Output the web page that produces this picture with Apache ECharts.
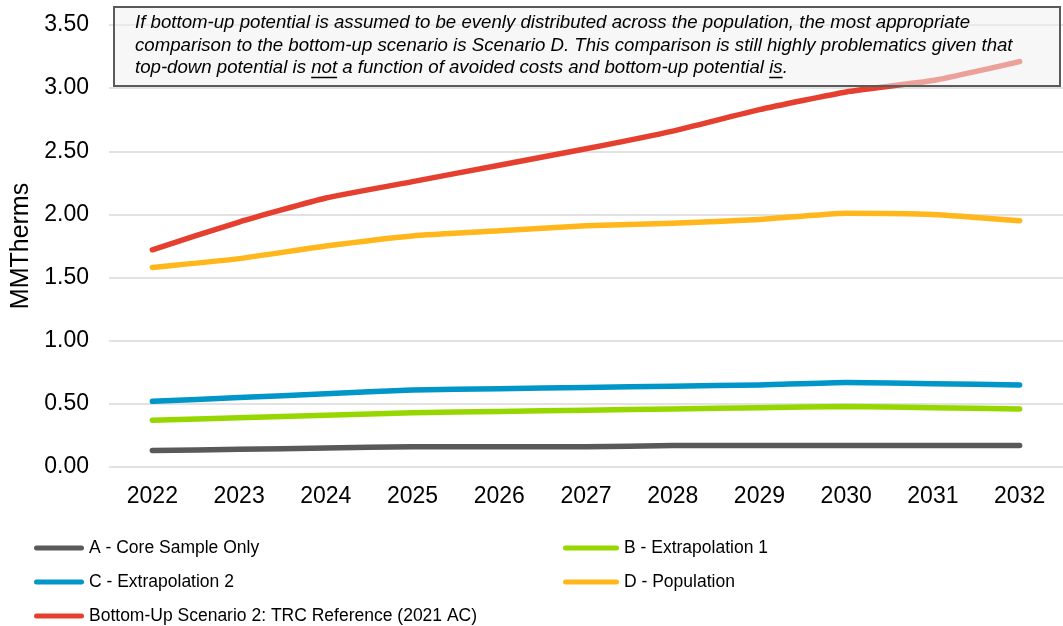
<!DOCTYPE html>
<html>
<head>
<meta charset="utf-8">
<script src="https://cdn.jsdelivr.net/npm/echarts@6/dist/echarts.min.js"></script>
<style>
  html, body { margin: 0; padding: 0; background: #fff; }
  #chart { width: 1063px; height: 626px; }
</style>
</head>
<body>
<div id="chart"></div>
<script>
// Annual savings potential by scenario (MMTherms)
const years = ['2022', '2023', '2024', '2025', '2026', '2027', '2028', '2029', '2030', '2031', '2032'];
const coreSampleOnly = [0.13, 0.14, 0.15, 0.16, 0.16, 0.16, 0.17, 0.17, 0.17, 0.17, 0.17];
const extrapolation1 = [0.37, 0.39, 0.41, 0.43, 0.44, 0.45, 0.46, 0.47, 0.48, 0.47, 0.46];
const extrapolation2 = [0.52, 0.55, 0.58, 0.61, 0.62, 0.63, 0.64, 0.65, 0.67, 0.66, 0.65];
const population = [1.58, 1.65, 1.75, 1.83, 1.87, 1.91, 1.93, 1.96, 2.01, 2.00, 1.95];
const bottomUp = [1.72, 1.94, 2.13, 2.26, 2.39, 2.52, 2.66, 2.83, 2.97, 3.06, 3.21];

const seriesNames = [
  'A - Core Sample Only',
  'B - Extrapolation 1',
  'C - Extrapolation 2',
  'D - Population',
  'Bottom-Up Scenario 2: TRC Reference (2021 AC)'
];
const seriesData = [coreSampleOnly, extrapolation1, extrapolation2, population, bottomUp];
const seriesColors = ['#595959', '#97d700', '#0096c8', '#ffb71b', '#e5402f'];

const noteLines = [
  'If bottom-up potential is assumed to be evenly distributed across the population, the most appropriate',
  'comparison to the bottom-up scenario is Scenario D. This comparison is still highly problematics given that',
  'top-down potential is not a function of avoided costs and bottom-up potential is.'
];

const FONT = 'Liberation Sans, Arial, sans-serif';
const noteFont = 'italic 18.65px "Liberation Sans", Arial, sans-serif';

// measure text runs so the underlined words sit under the right glyphs
const ctx = document.createElement('canvas').getContext('2d');
ctx.font = noteFont;
function w(s) { return ctx.measureText(s).width; }

const noteX = 135;
const noteY = [23, 45.5, 68];
const notStart = noteX + w('top-down potential is ');
const notEnd = notStart + w('not');
const isStart = noteX + w('top-down potential is not a function of avoided costs and bottom-up potential ');
const isEnd = isStart + w('is');

function roundIcon(len) {
  return 'path://M2.5,0 H' + (len - 2.5) + ' A2.5,2.5 0 0 1 ' + (len - 2.5) + ',5 H2.5 A2.5,2.5 0 0 1 2.5,0 Z';
}

// legend layout: two columns, A / C / Bottom-Up on the left, B / D on the right
const legendSlots = [
  { idx: 0, left: 34, top: 539, len: 50 },
  { idx: 1, left: 563, top: 539, len: 56 },
  { idx: 2, left: 34, top: 573, len: 50 },
  { idx: 3, left: 563, top: 573, len: 56 },
  { idx: 4, left: 34, top: 607, len: 50 }
];

const chart = echarts.init(document.getElementById('chart'), null, { renderer: 'canvas' });

const option = {
  animation: false,
  backgroundColor: '#fff',
  grid: { left: 109, top: 25, width: 968, bottom: 159, containLabel: false },
  legend: legendSlots.map(s => ({
    left: s.left,
    top: s.top,
    padding: 0,
    orient: 'horizontal',
    itemWidth: s.len,
    itemHeight: 5,
    itemGap: 0,
    icon: roundIcon(s.len),
    data: [seriesNames[s.idx]],
    textStyle: { fontFamily: FONT, fontSize: 17.5, color: '#000', padding: [0, 0, 0, 0] }
  })),
  xAxis: {
    type: 'category',
    data: years,
    boundaryGap: true,
    axisLine: { show: false },
    axisTick: { show: false },
    axisLabel: { fontFamily: FONT, fontSize: 23, color: '#000', margin: 18 }
  },
  yAxis: {
    type: 'value',
    min: 0,
    max: 3.5,
    interval: 0.5,
    name: 'MMTherms',
    nameLocation: 'middle',
    nameGap: 70,
    nameTextStyle: { fontFamily: FONT, fontSize: 25, color: '#000' },
    axisLine: { show: false },
    axisTick: { show: false },
    axisLabel: {
      fontFamily: FONT, fontSize: 23, color: '#000', margin: 20,
      formatter: v => v.toFixed(2)
    },
    splitLine: { lineStyle: { color: '#d9d9d9', width: 1.5 } }
  },
  series: seriesNames.map((name, i) => ({
    name: name,
    type: 'line',
    data: seriesData[i],
    showSymbol: false,
    symbol: 'none',
    smooth: 0.15,
    color: seriesColors[i],
    lineStyle: { width: 5.5, color: seriesColors[i], cap: 'round', join: 'round' },
    z: 2 + i
  })),
  graphic: [
    {
      type: 'rect',
      z: 100,
      shape: { x: 114, y: 7, width: 946, height: 79 },
      style: {
        fill: 'rgba(240,240,240,0.55)',
        stroke: '#5a5a5a',
        lineWidth: 2
      }
    },
    ...noteLines.map((t, i) => ({
      type: 'text',
      z: 101,
      x: noteX,
      y: noteY[i],
      style: {
        text: t,
        font: noteFont,
        fill: '#000',
        textAlign: 'left',
        textVerticalAlign: 'middle'
      }
    })),
    {
      type: 'line',
      z: 101,
      shape: { x1: notStart, y1: 77.5, x2: notEnd, y2: 77.5 },
      style: { stroke: '#000', lineWidth: 1.5 }
    },
    {
      type: 'line',
      z: 101,
      shape: { x1: isStart, y1: 77.5, x2: isEnd, y2: 77.5 },
      style: { stroke: '#000', lineWidth: 1.5 }
    }
  ]
};

chart.setOption(option);
</script>
</body>
</html>
